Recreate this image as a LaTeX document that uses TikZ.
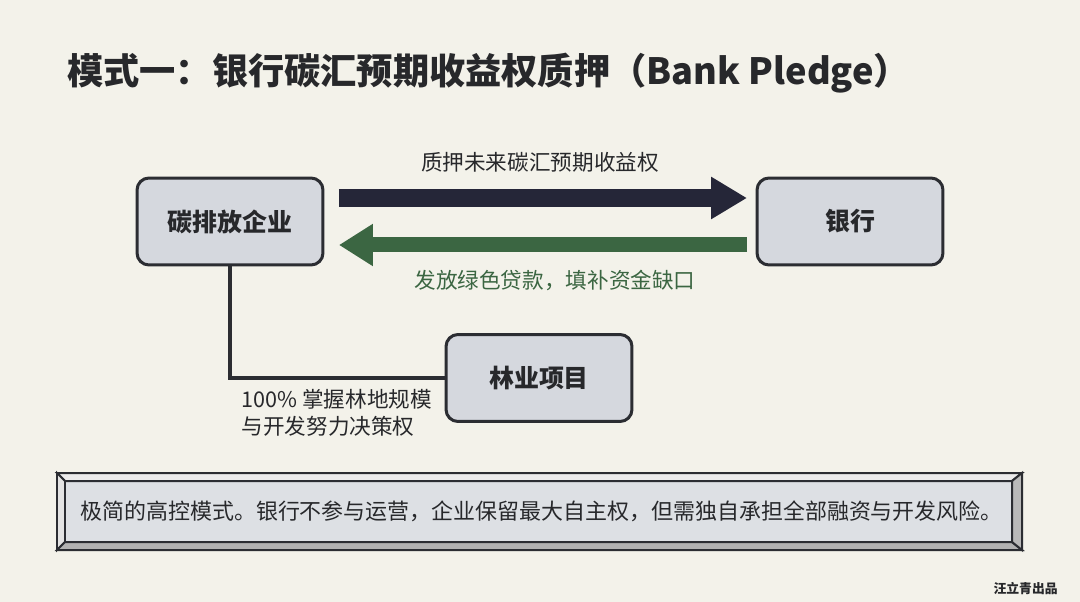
\documentclass[tikz,border=0pt]{standalone}
\usepackage{fontspec}
\setmainfont{Noto Sans CJK SC}
\usetikzlibrary{arrows.meta,positioning}
\definecolor{paper}{HTML}{F3F2EA}
\definecolor{ink}{HTML}{27282B}
\definecolor{boxline}{HTML}{2B2D32}
\definecolor{boxfill}{HTML}{D5D8DE}
\definecolor{navyflow}{HTML}{252638}
\definecolor{loangreen}{HTML}{3B6642}

\begin{document}
\begin{tikzpicture}[x=0.02cm,y=-0.02cm,
    entity/.style={draw=boxline,fill=boxfill,line width=0.06cm,rounded corners=0.24cm,
        minimum width=3.72cm,minimum height=1.74cm,text=ink,
        font=\fontsize{14.2}{17}\selectfont\bfseries},
    pledge/.style={navyflow,line width=0.36cm,-{Triangle[length=0.72cm,width=0.8cm]},
        shorten <=0.29cm,shorten >=0.17cm},
    loan/.style={loangreen,line width=0.3cm,-{Triangle[length=0.68cm,width=0.8cm]},
        shorten <=0.17cm,shorten >=0.29cm},
    flowlabel/.style={font=\fontsize{12.3}{15.2}\selectfont,inner sep=0pt},
    tie/.style={boxline,line width=0.065cm},
    bevel/.style={draw=boxline,line width=0.04cm,line join=miter}]

    \fill[paper] (0,0) rectangle (1080,602);

    \node[anchor=west,inner sep=0pt,text=ink,font=\fontsize{20.6}{25}\selectfont\bfseries] (title) at (67,73)
        {模式一：银行碳汇预期收益权质押（Bank Pledge）};

    \node[entity] (qiye) at (230,221.5) {碳排放企业};
    \node[entity] (yinhang) at (850,221.5) {银行};
    \node[entity] (linye) at (539,378) {林业项目};

    \draw[pledge] ([yshift=0.47cm]qiye.east) -- ([yshift=0.47cm]yinhang.west)
        node[midway,above=0.34cm,flowlabel,text=ink] (pledgetext) {质押未来碳汇预期收益权};
    \draw[loan] ([yshift=-0.47cm]yinhang.west) -- ([yshift=-0.47cm]qiye.east)
        node[midway,below=0.36cm,xshift=0.3cm,flowlabel,text=loangreen] (loantext) {发放绿色贷款，填补资金缺口};

    \draw[tie] (qiye.south) |- (linye.west)
        node[pos=0.5,anchor=north west,xshift=0.2cm,yshift=-0.2cm,flowlabel,text=ink,align=left] (controltext)
        {100\% 掌握林地规模\\与开发努力决策权};

    % bevelled note
    \fill[boxfill!80!white] (65,481) rectangle (1012,542);
    \filldraw[bevel,fill=gray!15] (57,473) -- (1022,473) -- (1012,481) -- (65,481) -- cycle;
    \filldraw[bevel,fill=gray!22] (57,473) -- (65,481) -- (65,542) -- (57,550) -- cycle;
    \filldraw[bevel,fill=gray!60] (57,550) -- (65,542) -- (1012,542) -- (1022,550) -- cycle;
    \filldraw[bevel,fill=gray!55] (1022,473) -- (1012,481) -- (1012,542) -- (1022,550) -- cycle;
    \node[anchor=west,inner sep=0pt,text=ink,font=\fontsize{12.5}{15}\selectfont] (remark) at (80,511)
        {极简的高控模式。银行不参与运营，企业保留最大自主权，但需独自承担全部融资与开发风险。};

    \node[anchor=east,inner sep=0pt,text=ink,font=\fontsize{7.3}{9}\selectfont\bfseries] (sign) at (1058,589) {汪立青出品};
\end{tikzpicture}
\end{document}
